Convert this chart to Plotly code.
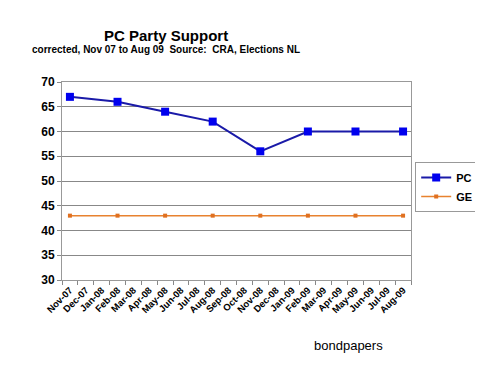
import plotly.graph_objects as go

months = ["Nov-07", "Dec-07", "Jan-08", "Feb-08", "Mar-08", "Apr-08", "May-08", "Jun-08",
          "Jul-08", "Aug-08", "Sep-08", "Oct-08", "Nov-08", "Dec-08", "Jan-09", "Feb-09",
          "Mar-09", "Apr-09", "May-09", "Jun-09", "Jul-09", "Aug-09"]
poll_months = ["Nov-07", "Feb-08", "May-08", "Aug-08", "Nov-08", "Feb-09", "May-09", "Aug-09"]
pc_values = [67, 66, 64, 62, 56, 60, 60, 60]
ge_values = [43, 43, 43, 43, 43, 43, 43, 43]
y_ticks = [30, 35, 40, 45, 50, 55, 60, 65, 70]

FONT = "Liberation Sans, Arial, sans-serif"

fig = go.Figure()
fig.add_trace(go.Scatter(
    x=poll_months, y=pc_values, name="PC", mode="lines+markers",
    line=dict(color="#1a1aa8", width=2),
    marker=dict(symbol="square", size=8, color="#0000ee", line=dict(width=0)),
))
fig.add_trace(go.Scatter(
    x=poll_months, y=ge_values, name="GE", mode="lines+markers",
    line=dict(color="#e8822f", width=1.5),
    marker=dict(symbol="square", size=4, color="#e07020", line=dict(width=0)),
))

fig.update_layout(
    width=475, height=358,
    margin=dict(l=54, r=72, t=74, b=86, autoexpand=False),
    paper_bgcolor="white", plot_bgcolor="white",
    font=dict(family=FONT, color="black"),
    showlegend=True,
    legend=dict(
        x=1.012, y=0.596, xanchor="left", yanchor="top",
        bordercolor="#999999", borderwidth=1, bgcolor="white",
        font=dict(family=FONT, size=11, weight="bold"),
        itemwidth=30, tracegroupgap=0,
    ),
    xaxis=dict(
        type="category", categoryorder="array", categoryarray=months,
        tickvals=months, ticktext=months,
        range=[-0.5, len(months) - 0.5],
        tickangle=-45, tickson="boundaries", ticks="outside", ticklen=4,
        tickcolor="#888888", automargin=False,
        tickfont=dict(family=FONT, size=9.5, weight="bold"),
        showgrid=False, showline=True, linecolor="#999999", linewidth=1,
        mirror=True, zeroline=False,
    ),
    yaxis=dict(
        range=[30, 70], tickvals=y_ticks, ticks="outside", ticklen=4,
        tickcolor="#888888", automargin=False,
        tickfont=dict(family=FONT, size=12, weight="bold"),
        showgrid=True, gridcolor="#888888", gridwidth=1,
        showline=True, linecolor="#999999", linewidth=1, mirror=True,
        zeroline=False,
    ),
    annotations=[
        dict(text="PC Party Support", xref="paper", yref="paper",
             x=0.298, y=1.237, xanchor="center", yanchor="middle", showarrow=False,
             font=dict(family=FONT, size=15, weight="bold")),
        dict(text="corrected, Nov 07 to Aug 09  Source:  CRA, Elections NL",
             xref="paper", yref="paper",
             x=0.298, y=1.162, xanchor="center", yanchor="middle", showarrow=False,
             font=dict(family=FONT, size=10, weight="bold")),
        dict(text="bondpapers", xref="paper", yref="paper",
             x=0.82, y=-0.333, xanchor="center", yanchor="middle", showarrow=False,
             font=dict(family=FONT, size=13)),
    ],
)

fig.write_html("out.html")
